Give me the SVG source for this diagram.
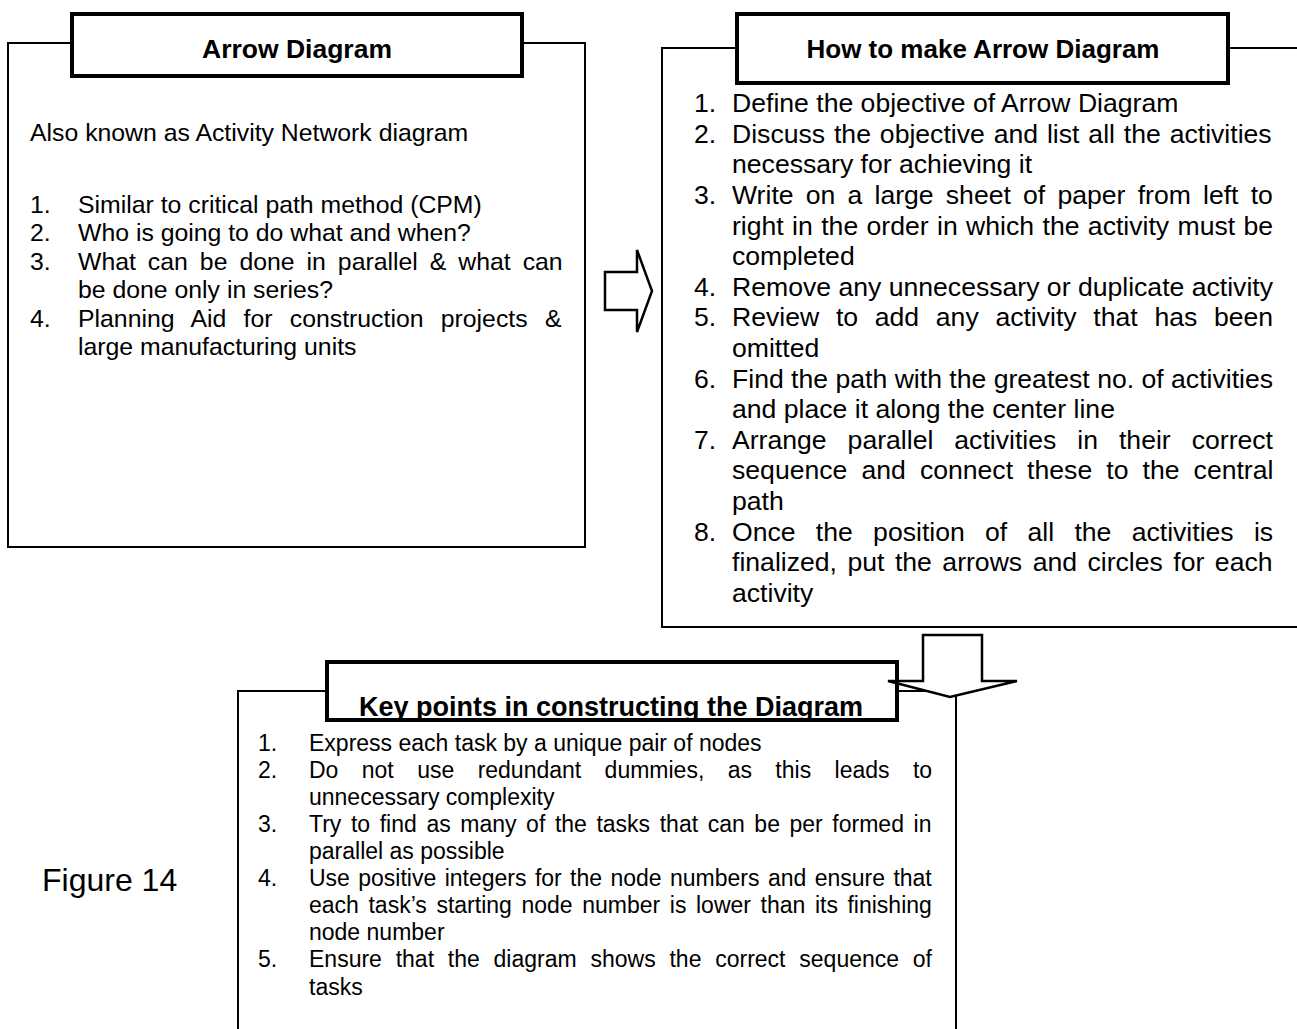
<svg xmlns="http://www.w3.org/2000/svg" width="1297" height="1029" viewBox="0 0 1297 1029">
  <style>
    .frame { fill: none; stroke: #000; stroke-width: 2; }
    .tab { fill: #fff; stroke: #000; stroke-width: 4; }
    .title { font-family: "Liberation Sans", Arial, sans-serif; font-weight: bold; text-anchor: middle; fill: #000; }
    .left { font-family: "Liberation Sans", Arial, sans-serif; font-size: 24.8px; fill: #000; }
    .right { font-family: "Liberation Sans", Arial, sans-serif; font-size: 26.6px; fill: #000; }
    .bottom { font-family: "Liberation Sans", Arial, sans-serif; font-size: 23px; fill: #000; }
    .fig { font-family: "Liberation Sans", Arial, sans-serif; font-size: 32px; fill: #000; }
    .arrow { fill: #fff; stroke: #000; stroke-width: 2.5; stroke-linejoin: miter; }
  </style>
  <defs>
    <clipPath id="keyClip">
      <rect x="327" y="662" width="570" height="57"/>
    </clipPath>
  </defs>
  <rect width="1297" height="1029" fill="#fff"/>

  <!-- Arrow Diagram panel -->
  <g id="arrow-diagram">
    <rect class="frame" x="8" y="43" width="577" height="504"/>
    <rect class="tab" x="72" y="14" width="450" height="62"/>
    <text class="title" x="297" y="58" font-size="26.5">Arrow Diagram</text>
    <g class="left">
      <text x="30" y="141">Also known as Activity Network diagram</text>
      <text x="30" y="213">1.</text><text x="78" y="213">Similar to critical path method (CPM)</text>
      <text x="30" y="241">2.</text><text x="78" y="241">Who is going to do what and when?</text>
      <text x="30" y="270">3.</text><text x="78" y="270" word-spacing="5.1">What can be done in parallel &amp; what can</text>
      <text x="78" y="298">be done only in series?</text>
      <text x="30" y="327">4.</text><text x="78" y="327" word-spacing="10.4">Planning Aid for construction projects &amp;</text>
      <text x="78" y="355">large manufacturing units</text>
    </g>
  </g>

  <!-- How to make panel (right edge runs off the page) -->
  <g id="how-to-make">
    <path class="frame" d="M1297,48 H662 V627 H1297"/>
    <rect class="tab" x="737" y="14" width="491" height="69"/>
    <text class="title" x="983" y="58" font-size="26">How to make Arrow Diagram</text>
    <g class="right">
      <text x="694" y="112">1.</text><text x="732" y="112">Define the objective of Arrow Diagram</text>
      <text x="694" y="143">2.</text><text x="732" y="143" word-spacing="1.5">Discuss the objective and list all the activities</text>
      <text x="732" y="173">necessary for achieving it</text>
      <text x="694" y="204">3.</text><text x="732" y="204" word-spacing="4.8">Write on a large sheet of paper from left to</text>
      <text x="732" y="235" word-spacing="1">right in the order in which the activity must be</text>
      <text x="732" y="265">completed</text>
      <text x="694" y="296">4.</text><text x="732" y="296">Remove any unnecessary or duplicate activity</text>
      <text x="694" y="326">5.</text><text x="732" y="326" word-spacing="9.3">Review to add any activity that has been</text>
      <text x="732" y="357">omitted</text>
      <text x="694" y="388">6.</text><text x="732" y="388">Find the path with the greatest no. of activities</text>
      <text x="732" y="418">and place it along the center line</text>
      <text x="694" y="449">7.</text><text x="732" y="449" word-spacing="13.6">Arrange parallel activities in their correct</text>
      <text x="732" y="479" word-spacing="6.7">sequence and connect these to the central</text>
      <text x="732" y="510">path</text>
      <text x="694" y="541">8.</text><text x="732" y="541" word-spacing="12.9">Once the position of all the activities is</text>
      <text x="732" y="571" word-spacing="3.1">finalized, put the arrows and circles for each</text>
      <text x="732" y="602">activity</text>
    </g>
  </g>

  <!-- Key points panel (bottom edge runs off the page) -->
  <g id="key-points">
    <path class="frame" d="M238,1029 V691 H956 V1029"/>
    <rect class="tab" x="327" y="662" width="570" height="58"/>
    <text class="title" x="611" y="716" font-size="27" clip-path="url(#keyClip)">Key points in constructing the Diagram</text>
    <g class="bottom">
      <text x="258" y="751">1.</text><text x="309" y="751">Express each task by a unique pair of nodes</text>
      <text x="258" y="778">2.</text><text x="309" y="778" word-spacing="17">Do not use redundant dummies, as this leads to</text>
      <text x="309" y="805">unnecessary complexity</text>
      <text x="258" y="832">3.</text><text x="309" y="832" word-spacing="3.2">Try to find as many of the tasks that can be per formed in</text>
      <text x="309" y="859">parallel as possible</text>
      <text x="258" y="886">4.</text><text x="309" y="886" word-spacing="2">Use positive integers for the node numbers and ensure that</text>
      <text x="309" y="913" word-spacing="3.2">each task’s starting node number is lower than its finishing</text>
      <text x="309" y="940">node number</text>
      <text x="258" y="967">5.</text><text x="309" y="967" word-spacing="7.4">Ensure that the diagram shows the correct sequence of</text>
      <text x="309" y="995">tasks</text>
    </g>
  </g>

  <g id="figure-label">
    <text class="fig" x="42" y="891">Figure 14</text>
  </g>

  <!-- Block arrows linking the panels -->
  <g id="connectors">
    <path class="arrow" d="M605,272 H637 V250 L652,291 L637,332 V310 H605 Z"/>
    <path class="arrow" d="M923,635 H982 V681 H1017 L950,697 L888,681 H923 Z"/>
  </g>
</svg>
